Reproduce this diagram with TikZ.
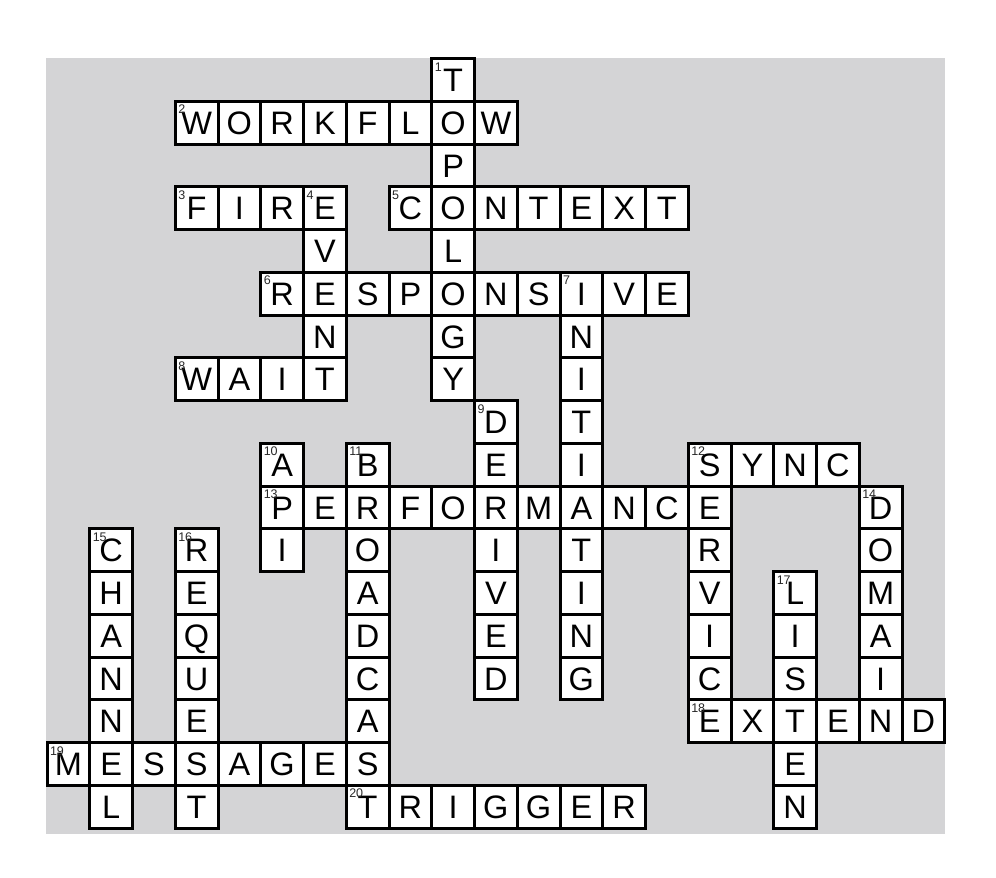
\documentclass[tikz,border=0pt]{standalone}
\usepackage{fontspec}
\setmainfont{Liberation Sans}
\definecolor{bgc}{RGB}{212,212,214}
\definecolor{numc}{RGB}{40,40,40}
\newcommand\xacross[3]{\foreach[count=\i from 0]\L in {#3}{\pgfmathtruncatemacro\cc{#1+\i}\node[cell] (n-\cc-#2) at ({47+(\cc+0.5)*42.75},{58.5+(#2+0.5)*42.75}) {\L};}}
\newcommand\xdown[3]{\foreach[count=\i from 0]\L in {#3}{\pgfmathtruncatemacro\rr{#2+\i}\ifcsname pgf@sh@ns@n-#1-\rr\endcsname\else\node[cell] (n-#1-\rr) at ({47+(#1+0.5)*42.75},{58.5+(\rr+0.5)*42.75}) {\L};\fi}}
\begin{document}
\begin{tikzpicture}[x=1pt,y=-1pt,
  cell/.style={draw=black,fill=white,line width=3pt,minimum size=42.75pt,inner sep=0pt,outer sep=0pt,
    font=\fontsize{32.5}{32.5}\selectfont,text height=23.3pt,text depth=0pt},
  num/.style={anchor=north west,inner sep=0pt,outer sep=0pt,text=numc,font=\fontsize{12.5}{12.5}\selectfont}]
\useasboundingbox (0,0) rectangle (996,878);
\fill[bgc] (46,58) rectangle (945,834);
% across
\xacross{3}{1}{W,O,R,K,F,L,O,W}
\xacross{3}{3}{F,I,R,E}
\xacross{8}{3}{C,O,N,T,E,X,T}
\xacross{5}{5}{R,E,S,P,O,N,S,I,V,E}
\xacross{3}{7}{W,A,I,T}
\xacross{15}{9}{S,Y,N,C}
\xacross{5}{10}{P,E,R,F,O,R,M,A,N,C,E}
\xacross{15}{15}{E,X,T,E,N,D}
\xacross{0}{16}{M,E,S,S,A,G,E,S}
\xacross{7}{17}{T,R,I,G,G,E,R}
% down
\xdown{9}{0}{T,O,P,O,L,O,G,Y}
\xdown{6}{3}{E,V,E,N,T}
\xdown{12}{5}{I,N,I,T,I,A,T,I,N,G}
\xdown{10}{8}{D,E,R,I,V,E,D}
\xdown{5}{9}{A,P,I}
\xdown{7}{9}{B,R,O,A,D,C,A,S,T}
\xdown{15}{9}{S,E,R,V,I,C,E}
\xdown{19}{10}{D,O,M,A,I,N}
\xdown{1}{11}{C,H,A,N,N,E,L}
\xdown{3}{11}{R,E,Q,U,E,S,T}
\xdown{17}{12}{L,I,S,T,E,N}
% numbers
\foreach \n/\c/\r in {1/9/0,2/3/1,3/3/3,4/6/3,5/8/3,6/5/5,7/12/5,8/3/7,9/10/8,10/5/9,11/7/9,12/15/9,13/5/10,14/19/10,15/1/11,16/3/11,17/17/12,18/15/15,19/0/16,20/7/17}
  \node[num] (k\n) at ([shift={(3,4)}]n-\c-\r.north west) {\n};
\end{tikzpicture}
\end{document}
